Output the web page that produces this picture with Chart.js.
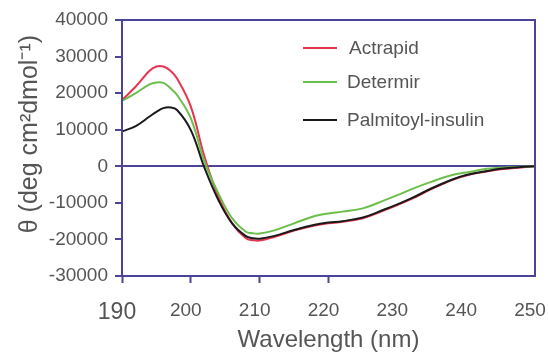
<!DOCTYPE html>
<html>
<head>
<meta charset="utf-8">
<script src="https://cdn.jsdelivr.net/npm/chart.js@4"></script>
<style>
  body { margin: 0; background: #fff; }
  #wrap { position: relative; width: 548px; height: 355px; }
  #legend { position: absolute; left: 0; top: 0; font-family: "Liberation Sans", Arial, sans-serif; font-size: 19px; color: #555; }
  .item { position: absolute; left: 303px; height: 24px; line-height: 24px; white-space: nowrap; }
  .item span.ln { position: absolute; left: 0; top: 11px; width: 34px; height: 2px; }
  .item span.tx { position: absolute; left: 44px; top: 0; }
</style>
</head>
<body>
<div id="wrap">
  <canvas id="cd-chart" width="548" height="355"></canvas>
  <div id="legend"></div>
</div>
<script>
// wavelength (nm)
const wavelengths = [190, 192, 194, 195, 196, 197, 198, 200, 202, 204, 206, 208, 209, 210, 212, 215, 218, 220, 222, 225, 228, 230, 232, 235, 238, 240, 243, 245, 248, 250];

const actrapid = [18100, 21800, 26100, 27300, 27300, 26200, 24000, 16300, 2500, -8300, -15600, -19700, -20200, -20300, -19400, -17600, -16200, -15600, -15200, -14200, -12100, -10600, -9000, -6200, -3700, -2500, -1400, -800, -300, 0];
const determir = [17900, 20000, 22400, 22900, 22800, 21400, 19500, 13100, 1200, -7400, -14200, -17900, -18300, -18400, -17600, -15600, -13600, -12900, -12400, -11500, -9400, -7900, -6300, -4200, -2400, -1700, -700, -400, -100, 0];
const palmitoyl = [9500, 11000, 13600, 14900, 15900, 16100, 15400, 9900, -500, -9200, -15600, -19100, -19700, -19800, -19100, -17400, -16000, -15400, -15000, -14000, -11900, -10400, -8800, -6000, -3600, -2400, -1300, -700, -200, 0];

const seriesNames = ['Actrapid', 'Determir', 'Palmitoyl-insulin'];
const seriesColors = ['#e8344e', '#6abf4b', '#1a1a1a'];
const yTicks = [-30000, -20000, -10000, 0, 10000, 20000, 30000, 40000];
const xTicks = [190, 200, 210, 220, 230, 240, 250];

const axisColor = '#4b4499';
const textColor = '#555';
const fontFamily = '"Liberation Sans", Arial, sans-serif';

function toPoints(vals) {
    return vals.map((v, i) => ({ x: wavelengths[i], y: v }));
}

const frame = {
    id: 'frame',
    afterDatasetsDraw(chart) {
        const a = chart.chartArea;
        const ctx = chart.ctx;
        ctx.save();
        ctx.strokeStyle = axisColor;
        ctx.lineWidth = 2;
        ctx.strokeRect(a.left, a.top, a.right - a.left, a.bottom - a.top);
        ctx.restore();
    }
};

const allSeries = [actrapid, determir, palmitoyl];

var ctx = document.getElementById('cd-chart').getContext('2d');
var cdChart = new Chart(ctx, {
    type: 'line',
    data: {
        datasets: allSeries.map((vals, i) => ({
            label: seriesNames[i],
            data: toPoints(vals),
            borderColor: seriesColors[i],
            backgroundColor: seriesColors[i],
            borderWidth: 2,
            fill: false,
            tension: 0.4,
            pointRadius: 0,
            order: i === 0 ? 3 : (i === 1 ? 2 : 1)
        }))
    },
    options: {
        responsive: false,
        animation: false,
        layout: { padding: { top: 20, right: 13, left: 0, bottom: 0 } },
        plugins: {
            legend: { display: false },
            tooltip: { enabled: false }
        },
        scales: {
            x: {
                type: 'linear',
                min: 190,
                max: 250,
                afterFit(scale) {
                    scale.height = 79;
                    scale.paddingLeft = 0;
                    scale.paddingRight = 0;
                },
                afterBuildTicks(scale) { scale.ticks = xTicks.map(v => ({ value: v })); },
                border: { color: axisColor, width: 2 },
                grid: {
                    drawOnChartArea: false,
                    tickLength: 7,
                    tickWidth: 2,
                    tickColor: c => (c.tick && c.tick.value <= 220) ? axisColor : 'rgba(0,0,0,0)'
                },
                ticks: {
                    color: textColor,
                    padding: 16,
                    labelOffset: -5,
                    maxRotation: 0,
                    font: c => ({ family: fontFamily, size: (c.tick && c.tick.value === 190) ? 23 : 19 })
                },
                title: {
                    display: true,
                    text: 'Wavelength (nm)',
                    color: textColor,
                    font: { family: fontFamily, size: 24 },
                    padding: { top: 0, bottom: 0 }
                }
            },
            y: {
                min: -30000,
                max: 40000,
                afterFit(scale) {
                    scale.width = 122;
                    scale.paddingTop = 0;
                    scale.paddingBottom = 0;
                },
                afterBuildTicks(scale) { scale.ticks = yTicks.map(v => ({ value: v })); },
                border: { color: axisColor, width: 2 },
                grid: {
                    color: c => (c.tick && c.tick.value === 0) ? axisColor : 'rgba(0,0,0,0)',
                    lineWidth: 2,
                    tickLength: 7,
                    tickWidth: 2,
                    tickColor: axisColor
                },
                ticks: {
                    color: textColor,
                    padding: 7,
                    font: { family: fontFamily, size: 19 },
                    callback: v => String(v)
                },
                title: {
                    display: true,
                    text: '    \u03b8 (deg cm\u00b2dmol\u207b\u00b9)',
                    color: textColor,
                    font: { family: fontFamily, size: 25 },
                    padding: { top: 15, bottom: 0 }
                }
            }
        }
    },
    plugins: [frame]
});

// legend
const legendTops = [36, 70, 108];
const legendLeft = [46, 44, 44];
const legendEl = document.getElementById('legend');
seriesNames.forEach((name, i) => {
    const item = document.createElement('div');
    item.className = 'item';
    item.style.top = legendTops[i] + 'px';
    item.innerHTML = '<span class="ln" style="background:' + seriesColors[i] + '"></span><span class="tx" style="left:' + legendLeft[i] + 'px">' + name + '</span>';
    legendEl.appendChild(item);
});
</script>
</body>
</html>
